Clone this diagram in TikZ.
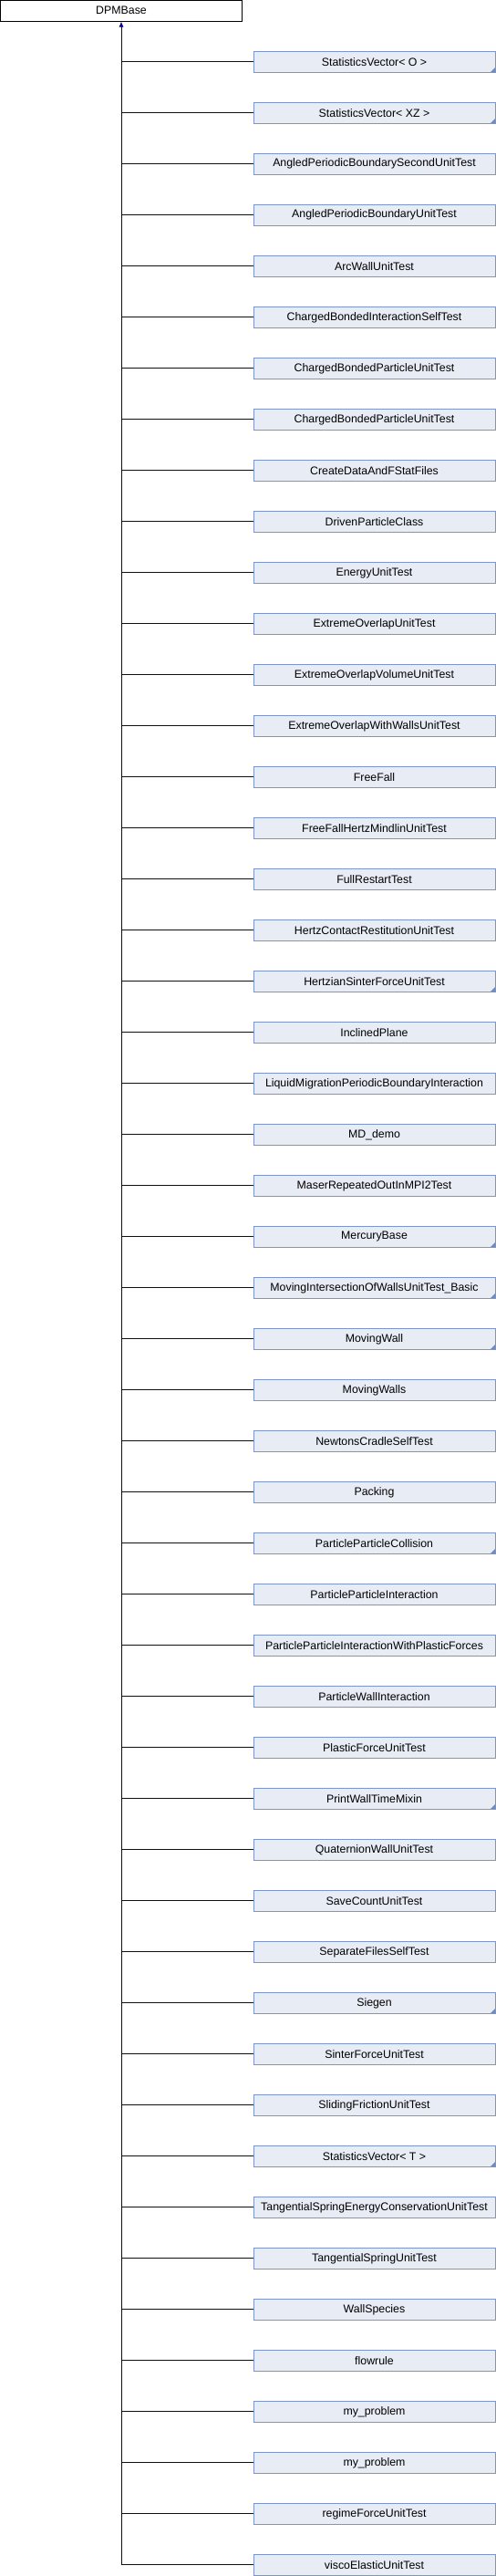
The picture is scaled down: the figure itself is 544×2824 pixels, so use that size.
\documentclass[tikz,border=0pt]{standalone}
\usepackage{fontspec}
\setmainfont{Liberation Sans}
\usetikzlibrary{arrows.meta}
\definecolor{boxfill}{RGB}{232,236,245}
\definecolor{boxline}{RGB}{124,149,203}
\definecolor{conncol}{RGB}{0,0,140}
\definecolor{markcol}{RGB}{112,136,192}
\tikzset{
  basebox/.style={draw=black, fill=white, line width=1bp, minimum width=265bp, minimum height=22.5bp, inner sep=0pt, font=\fontsize{12.4}{14}\selectfont},
  childbox/.style={draw=boxline, fill=boxfill, line width=1bp, minimum width=265bp, minimum height=22.5bp, inner sep=0pt, font=\fontsize{12.4}{14}\selectfont},
  conn/.style={draw=conncol, line width=1bp},
  markfill/.style={fill=markcol}
}
\begin{document}
\begin{tikzpicture}[x=1bp,y=-1bp]
\useasboundingbox (0,0) rectangle (544,2824);
\node[basebox] (base) at (133,11.75) {DPMBase};
\foreach \t [count=\i] in {
StatisticsVector< O >,
StatisticsVector< XZ >,
AngledPeriodicBoundarySecondUnitTest,
AngledPeriodicBoundaryUnitTest,
ArcWallUnitTest,
ChargedBondedInteractionSelfTest,
ChargedBondedParticleUnitTest,
ChargedBondedParticleUnitTest,
CreateDataAndFStatFiles,
DrivenParticleClass,
EnergyUnitTest,
ExtremeOverlapUnitTest,
ExtremeOverlapVolumeUnitTest,
ExtremeOverlapWithWallsUnitTest,
FreeFall,
FreeFallHertzMindlinUnitTest,
FullRestartTest,
HertzContactRestitutionUnitTest,
HertzianSinterForceUnitTest,
InclinedPlane,
LiquidMigrationPeriodicBoundaryInteraction,
MD\_demo,
MaserRepeatedOutInMPI2Test,
MercuryBase,
MovingIntersectionOfWallsUnitTest\_Basic,
MovingWall,
MovingWalls,
NewtonsCradleSelfTest,
Packing,
ParticleParticleCollision,
ParticleParticleInteraction,
ParticleParticleInteractionWithPlasticForces,
ParticleWallInteraction,
PlasticForceUnitTest,
PrintWallTimeMixin,
QuaternionWallUnitTest,
SaveCountUnitTest,
SeparateFilesSelfTest,
Siegen,
SinterForceUnitTest,
SlidingFrictionUnitTest,
StatisticsVector< T >,
TangentialSpringEnergyConservationUnitTest,
TangentialSpringUnitTest,
WallSpecies,
flowrule,
my\_problem,
my\_problem,
regimeForceUnitTest,
viscoElasticUnitTest}{
  \node[childbox] (c\i) at (410.5,{56.3+56*(\i-1)+11.5}) {\t};
  \draw[conn] (c\i.west) -- (c\i.west -| base.south);
}
\draw[conn, {Latex[length=6bp,width=5bp]}-] (base.south) -- (c50.west -| base.south);
\foreach \i in {1,2,19,24,25,26,30,35,39,42}{
  \fill[markfill] ([xshift=-0.5bp,yshift=0.5bp]c\i.south east) -- ++(-5,0) -- ++(5,-5) -- cycle;
}
\end{tikzpicture}
\end{document}
